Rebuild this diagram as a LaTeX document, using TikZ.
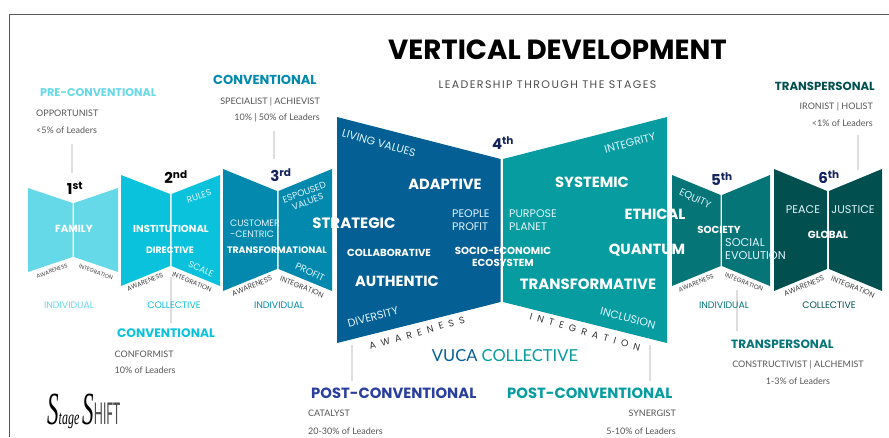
\documentclass[tikz,border=0pt]{standalone}
\usepackage{fontspec}
\setmainfont{Poppins}
\newfontfamily\latofont{Lato}
\newfontfamily\logofont{Liberation Serif}
\usetikzlibrary{positioning}
\definecolor{stageone}{HTML}{66D9E8}
\definecolor{stagetwo}{HTML}{0AC2DC}
\definecolor{stagethree}{HTML}{0389AE}
\definecolor{stagefourl}{HTML}{035F94}
\definecolor{stagefourr}{HTML}{069CA0}
\definecolor{stagefive}{HTML}{067578}
\definecolor{stagesix}{HTML}{024F4F}
\definecolor{ordinal}{HTML}{14225E}
\definecolor{postblue}{HTML}{2A3E9E}
\definecolor{greytext}{HTML}{555555}
\tikzset{
    every node/.style={inner sep=0pt},
    guide/.style={draw=black!13, line width=2.5pt},
    heading/.style={font=\fontsize{#1}{#1}\selectfont\bfseries},
    detail/.style={font=\latofont\fontsize{9}{9}\selectfont, text=greytext},
    ordnum/.style={font=\fontsize{15}{15}\selectfont\bfseries},
    word/.style={text=white, font=\fontsize{#1}{#1}\selectfont\bfseries},
    thinword/.style={text=white!88!cyan, align=left, font=\fontsize{#1}{13}\selectfont},
    edgeword/.style={text=black!75, font=\fontsize{#1}{#1}\selectfont},
    spacedword/.style={text=black!80, font=\fontsize{9.5}{9.5}\selectfont\addfontfeature{LetterSpace=57}},
    groupword/.style={font=\fontsize{9.4}{9.4}\selectfont}
}

\begin{document}
\begin{tikzpicture}[x=1pt,y=-1pt]
\useasboundingbox (0,0) rectangle (889,437);

% Frame
\coordinate (framea) at (9,437);
\coordinate (frameb) at (9,14);
\coordinate (framec) at (889,14);
\draw[black!65, line width=1pt] (framea) -- (frameb) -- (framec);

% Title
\node[heading=27.7] (title) at (557.5,50) {VERTICAL DEVELOPMENT};
\node[font=\fontsize{11}{11}\selectfont\addfontfeature{LetterSpace=13}, text=black!70] (subtitle) at (547.5,85) {LEADERSHIP THROUGH THE STAGES};

% Stage panels
\fill[stageone] (28,188) -- (72.5,203) -- (72.5,257) -- (28,272) -- cycle;
\fill[stageone] (74,203) -- (118,188) -- (118,272) -- (74,257) -- cycle;
\fill[stagetwo] (121,175) -- (170,194) -- (170,266) -- (121,286) -- cycle;
\fill[stagetwo] (171.5,194) -- (220,175) -- (220,286) -- (171.5,266) -- cycle;
\fill[stagethree] (223,169) -- (277,191) -- (277,269) -- (223,291) -- cycle;
\fill[stagethree] (278.5,191) -- (332,169) -- (332,291) -- (278.5,269) -- cycle;
\fill[stagefourl] (337,117) -- (500.7,159) -- (500.7,302) -- (337,343) -- cycle;
\fill[stagefourr] (503,159) -- (667,117) -- (667,343) -- (503,302) -- cycle;
\fill[stagefive] (672,175) -- (720.7,195) -- (720.7,266) -- (672,286) -- cycle;
\fill[stagefive] (722,195) -- (770,175) -- (770,286) -- (722,266) -- cycle;
\fill[stagesix] (774,169) -- (827,191) -- (827,269) -- (774,291) -- cycle;
\fill[stagesix] (829,191) -- (882,169) -- (882,291) -- (829,269) -- cycle;

% Guide lines
\coordinate (ga1) at (72,144);   \coordinate (ga2) at (72,173);
\coordinate (gb1) at (171,277);  \coordinate (gb2) at (171,323);
\coordinate (gc1) at (274,131);  \coordinate (gc2) at (274,159);
\coordinate (gd1) at (352,345);  \coordinate (gd2) at (352,381);
\coordinate (ge1) at (650,345);  \coordinate (ge2) at (650,381);
\coordinate (gf1) at (737,290);  \coordinate (gf2) at (737,331);
\coordinate (gg1) at (858,135);  \coordinate (gg2) at (858,170);
\draw[guide] (ga1) -- (ga2);
\draw[guide] (gb1) -- (gb2);
\draw[guide] (gc1) -- (gc2);
\draw[guide] (gd1) -- (gd2);
\draw[guide] (ge1) -- (ge2);
\draw[guide] (gf1) -- (gf2);
\draw[guide] (gg1) -- (gg2);

% Ordinals
\node[ordnum] (nfirst) at (75,188) {1\textsuperscript{st}};
\node[ordnum] (nsecond) at (176,177) {2\textsuperscript{nd}};
\node[ordnum, text=ordinal] (nthird) at (281,175) {3\textsuperscript{rd}};
\node[ordnum, text=ordinal] (nfourth) at (503,143) {4\textsuperscript{th}};
\node[ordnum, text=ordinal] (nfifth) at (722,179) {5\textsuperscript{th}};
\node[ordnum, text=ordinal] (nsixth) at (829,177) {6\textsuperscript{th}};

% Stage 1
\node[word=10.3] (family) at (74,229) {FAMILY};
\node[edgeword=5.6, rotate=20] (awa1) at (52,271) {AWARENESS};
\node[edgeword=5.6, rotate=-20] (int1) at (96,272) {INTEGRATION};
\node[groupword, text=stageone] (ind1) at (69,305) {INDIVIDUAL};

% Stage 2
\node[word=10.1] (institutional) at (171,229) {INSTITUTIONAL};
\node[word=9.3] (directive) at (170,250) {DIRECTIVE};
\node[thinword=9, rotate=20] (rules) at (199,196) {RULES};
\node[thinword=9, rotate=-25] (scale) at (201,269) {SCALE};
\node[edgeword=6.6, rotate=22] (awa2) at (145,282) {AWARENESS};
\node[edgeword=6.6, rotate=-22] (int2) at (192,282) {INTEGRATION};
\node[groupword, text=stagetwo] (col2) at (174,305) {COLLECTIVE};

% Stage 3
\node[thinword=9.3, anchor=west] (customer) at (230,229) {CUSTOMER\\[-2pt]-CENTRIC};
\node[word=9.4] (transformational) at (277,250) {TRANSFORMATIONAL};
\node[thinword=9.2, rotate=20, align=center] (espoused) at (306,197) {ESPOUSED\\[-3pt]VALUES};
\node[thinword=9.5, rotate=-25] (profit) at (310,272) {PROFIT};
\node[edgeword=7.3, rotate=22] (awa3) at (252,286) {AWARENESS};
\node[edgeword=7.3, rotate=-22] (int3) at (302,287) {INTEGRATION};
\node[groupword, text=stagethree] (ind3) at (279,305) {INDIVIDUAL};

% Stage 4
\node[word=15] (strategic) at (354,223) {STRATEGIC};
\node[word=14.7] (adaptive) at (445,184) {ADAPTIVE};
\node[word=10.2] (collaborative) at (389,253) {COLLABORATIVE};
\node[word=14.7] (authentic) at (397,281) {AUTHENTIC};
\node[thinword=11, rotate=-16] (living) at (379,143) {LIVING VALUES};
\node[thinword=11, anchor=west] (people) at (452,220) {PEOPLE\\PROFIT};
\node[thinword=11, anchor=west] (purpose) at (509,220) {PURPOSE\\PLANET};
\node[word=10.2, align=center] (socio) at (503,257) {SOCIO-ECONOMIC\\[2pt]ECOSYSTEM};
\node[thinword=11, rotate=15] (diversity) at (373,317) {DIVERSITY};
\node[word=14.7] (systemic) at (592,182) {SYSTEMIC};
\node[word=14.7] (ethical) at (655,214) {ETHICAL};
\node[word=14.7] (quantum) at (647,250) {QUANTUM};
\node[word=14.9] (transformative) at (588,284) {TRANSFORMATIVE};
\node[thinword=11, rotate=15] (integrity) at (630,143) {INTEGRITY};
\node[thinword=11, rotate=-15] (inclusion) at (628,318) {INCLUSION};
\node[spacedword, rotate=16] (awa4) at (417,333) {AWARENESS};
\node[spacedword, rotate=-16] (int4) at (585,332) {INTEGRATION};
\node[font=\latofont\fontsize{16.5}{16.5}\selectfont] (vuca) at (505,356) {\textcolor{stagefourl}{VUCA} \textcolor{stagefourr}{COLLECTIVE}};

% Stage 5
\node[thinword=10, rotate=-25] (equity) at (695,199) {EQUITY};
\node[word=10.2] (society) at (719,230) {SOCIETY};
\node[thinword=11.3, anchor=west] (social) at (725,249) {SOCIAL\\EVOLUTION};
\node[edgeword=6.4, rotate=22] (awa5) at (696,283) {AWARENESS};
\node[edgeword=6.4, rotate=-22] (int5) at (744,282) {INTEGRATION};
\node[groupword, text=stagefive] (ind5) at (724,305) {INDIVIDUAL};

% Stage 6
\node[thinword=11.2] (peace) at (803,210) {PEACE};
\node[thinword=11.2] (justice) at (853,210) {JUSTICE};
\node[word=10.3] (global) at (828,235) {GLOBAL};
\node[edgeword=7.3, rotate=22] (awa6) at (804,286) {AWARENESS};
\node[edgeword=7.3, rotate=-22] (int6) at (853,287) {INTEGRATION};
\node[groupword, text=stagesix] (col6) at (829,305) {COLLECTIVE};

% Level captions
\node[heading=11.2, text=stageone, anchor=west] (prehead) at (40,93) {PRE-CONVENTIONAL};
\node[detail, anchor=west] (prea) at (36,113) {OPPORTUNIST};
\node[detail, anchor=west] (preb) at (36,130) {<5\% of Leaders};

\node[heading=13, text=stagethree, anchor=west] (convtop) at (213,80) {CONVENTIONAL};
\node[detail, anchor=east] (convtopa) at (320,102) {SPECIALIST | ACHIEVIST};
\node[detail, anchor=east] (convtopb) at (320,118) {10\% | 50\% of Leaders};

\node[heading=12.3, text=stagetwo] (convlow) at (166,333) {CONVENTIONAL};
\node[detail, anchor=west] (convlowa) at (114.5,354) {CONFORMIST};
\node[detail, anchor=west] (convlowb) at (114.5,370) {10\% of Leaders};

\node[heading=14.8, text=postblue, anchor=west] (posta) at (311,393) {POST-CONVENTIONAL};
\node[detail, anchor=west] (postaa) at (308,413) {CATALYST};
\node[detail, anchor=west] (postab) at (308,431) {20-30\% of Leaders};

\node[heading=14.8, text=stagefourr, anchor=west] (postb) at (507,393) {POST-CONVENTIONAL};
\node[detail, anchor=east] (postba) at (676,413) {SYNERGIST};
\node[detail, anchor=east] (postbb) at (676,431) {5-10\% of Leaders};

\node[heading=12, text=stagefive, anchor=west] (translow) at (731,344) {TRANSPERSONAL};
\node[detail] (translowa) at (798,365) {CONSTRUCTIVIST | ALCHEMIST};
\node[detail] (translowb) at (798,381) {1-3\% of Leaders};

\node[heading=11.7, text=stagesix, anchor=east] (transtop) at (875,86) {TRANSPERSONAL};
\node[detail, anchor=east] (transtopa) at (873,107) {IRONIST | HOLIST};
\node[detail, anchor=east] (transtopb) at (873,123) {<1\% of Leaders};

% Logo
\node[anchor=base west] (logo) at (47,424) {\logofont\itshape\fontsize{46}{46}\selectfont\scalebox{0.5}[1]{S}\fontsize{20}{20}\selectfont\scalebox{0.6}[1]{tage}\hspace{3pt}\fontsize{46}{46}\selectfont\scalebox{0.5}[1]{S}\upshape\latofont\fontsize{30}{30}\selectfont\textcolor{black!70}{\scalebox{0.4}[1]{HIFT}}};

\end{tikzpicture}
\end{document}
